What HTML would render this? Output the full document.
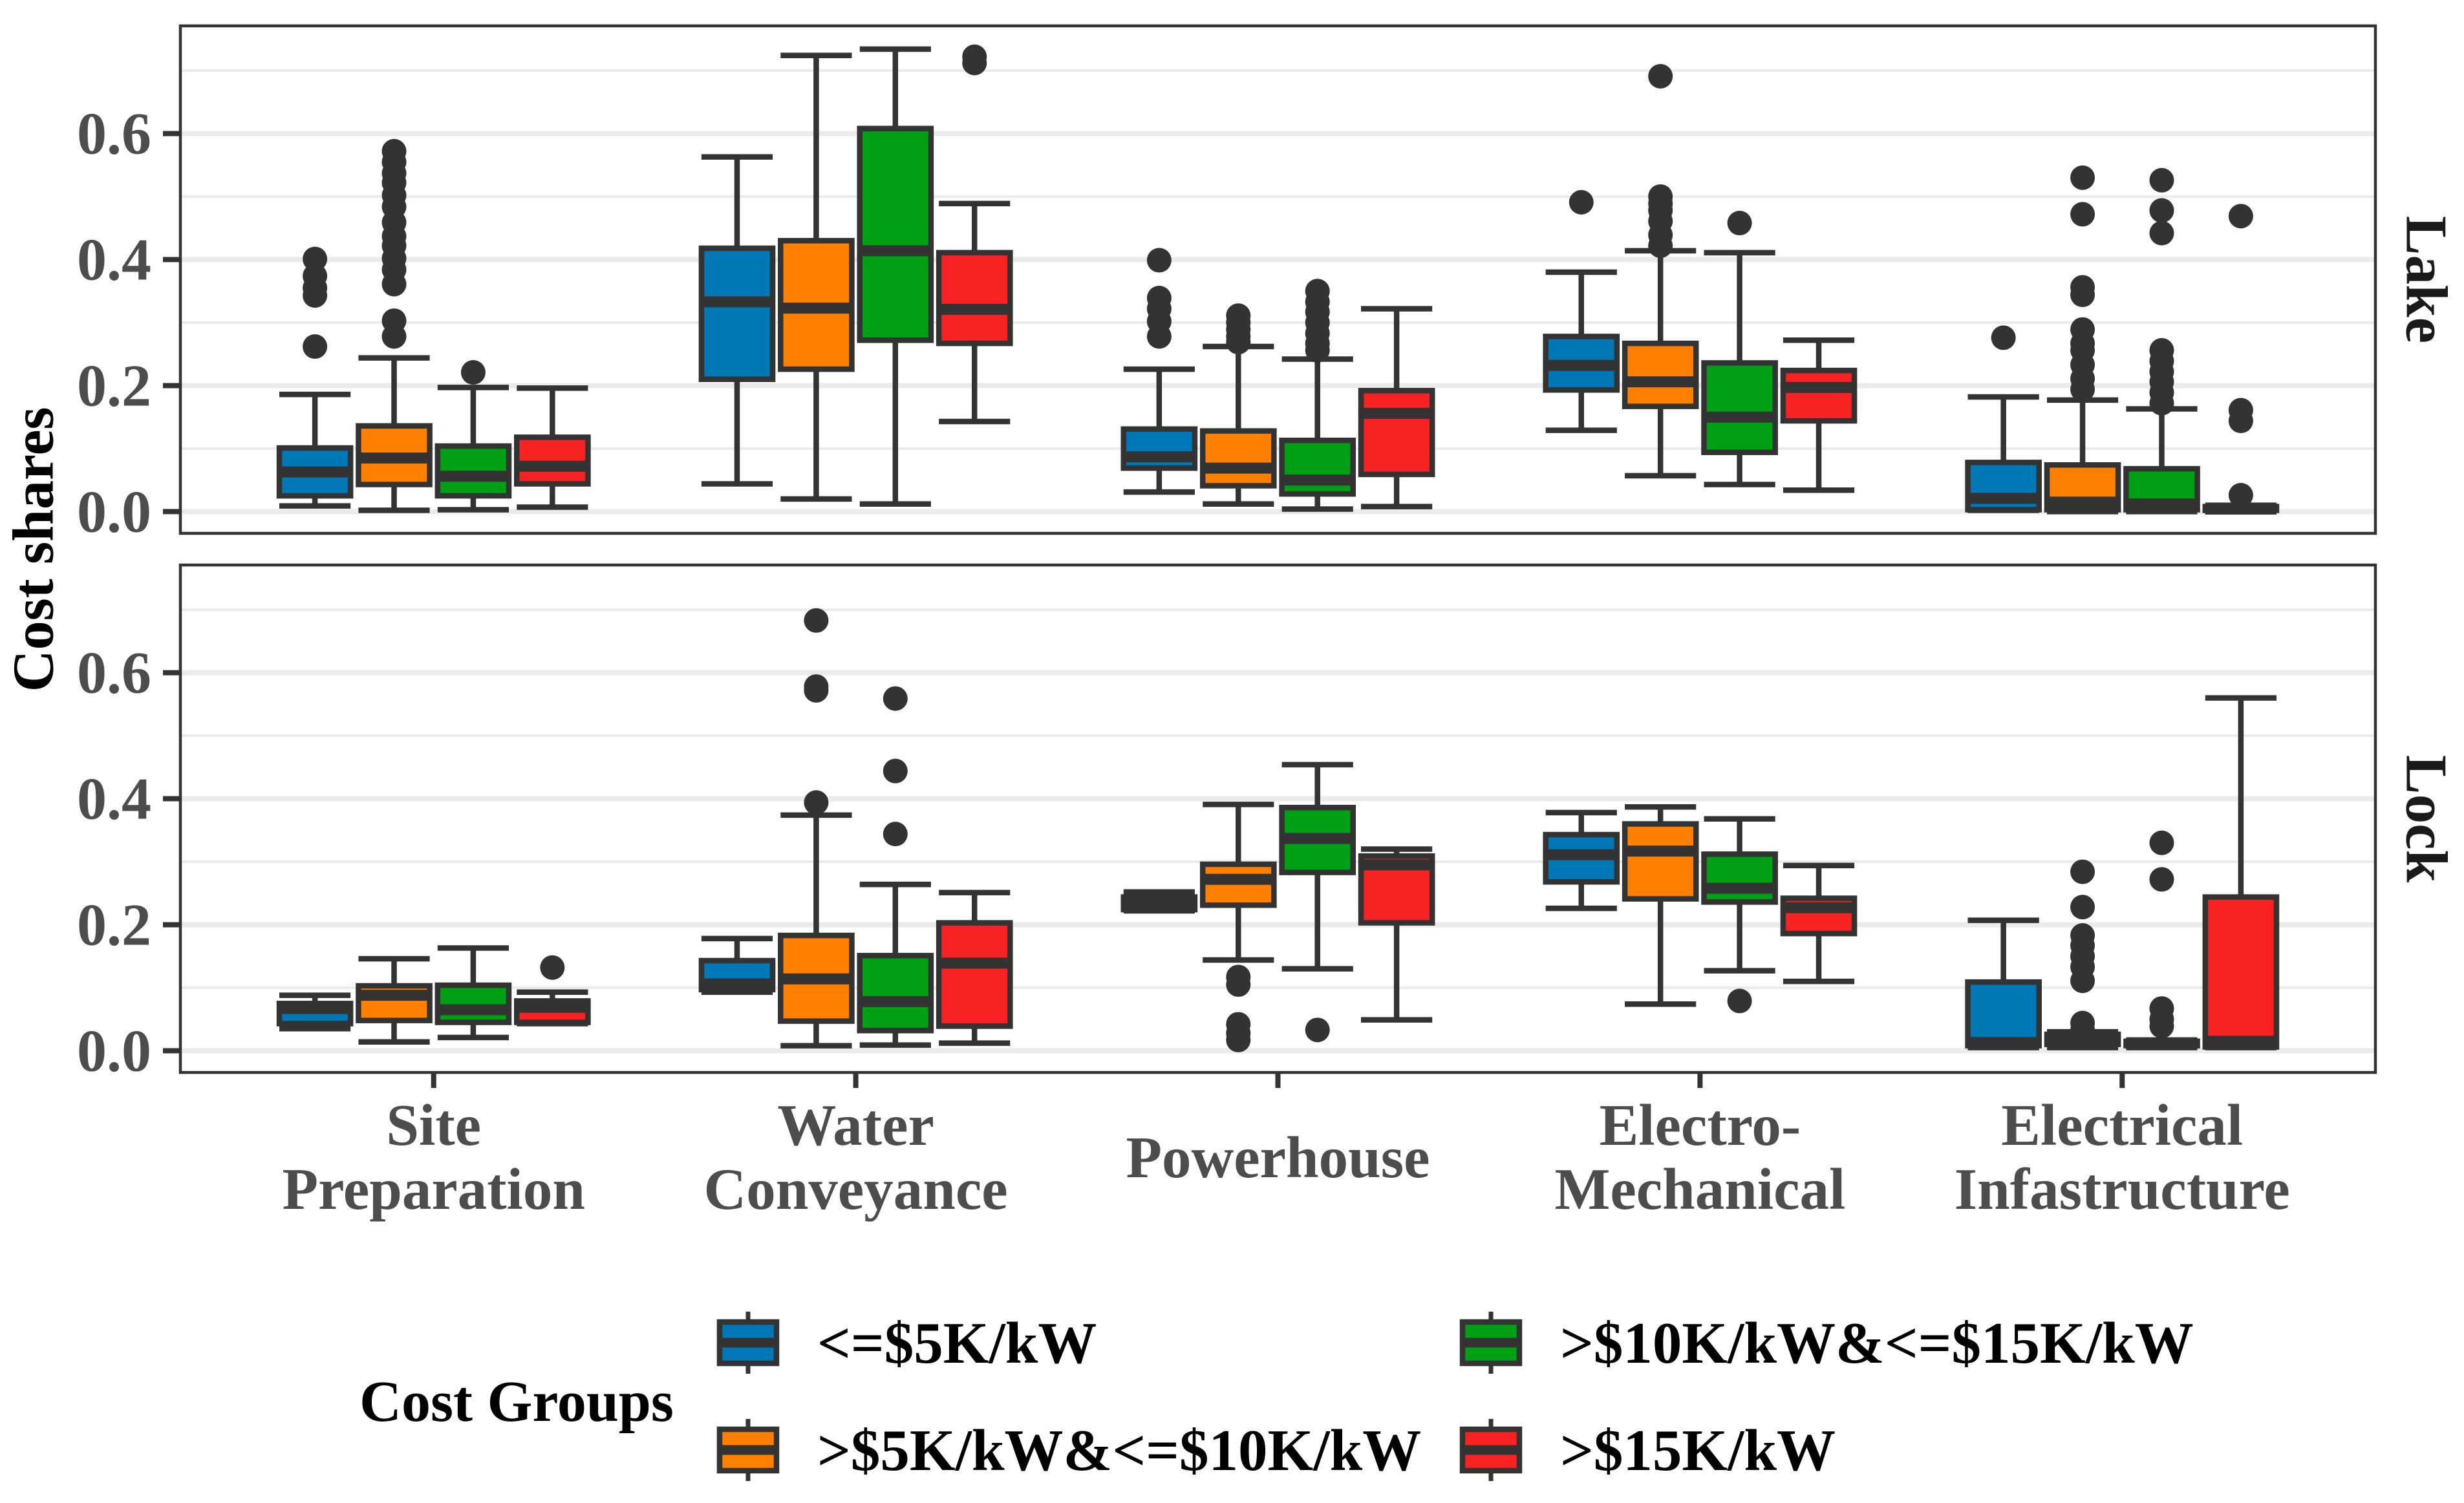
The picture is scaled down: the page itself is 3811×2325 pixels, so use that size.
<!DOCTYPE html>
<html><head><meta charset="utf-8">
<style>
html,body{margin:0;padding:0;background:#fff;}
svg{display:block;}
text{font-family:"Liberation Serif",serif;font-weight:bold;}
</style></head>
<body>
<svg id="chart" width="3811" height="2325" viewBox="0 0 3811 2325" xmlns="http://www.w3.org/2000/svg"></svg>
<script>
const categories = ["Site Preparation","Water Conveyance","Powerhouse","Electro-Mechanical","Electrical Infastructure"];
const categoryLines = [["Site","Preparation"],["Water","Conveyance"],["Powerhouse"],["Electro-","Mechanical"],["Electrical","Infastructure"]];
const groups = ["<=$5K/kW",">$5K/kW&<=$10K/kW",">$10K/kW&<=$15K/kW",">$15K/kW"];
const groupColors = ["#0077b6","#ff7f00","#00a014","#f82223"];
const facets = ["Lake","Lock"];
const yTicks = [0,0.2,0.4,0.6];
const yTickLabels = ["0.0","0.2","0.4","0.6"];
const yMinor = [0.1,0.3,0.5,0.7];

// [lower whisker, q1, median, q3, upper whisker] per category
const lakeG1 = [[0.009,0.025,0.063,0.101,0.186],[0.044,0.21,0.333,0.418,0.563],[0.031,0.069,0.087,0.131,0.226],[0.129,0.193,0.232,0.278,0.38],[0.002,0.003,0.021,0.078,0.182]];
const lakeG2 = [[0.002,0.043,0.085,0.136,0.244],[0.02,0.226,0.323,0.43,0.724],[0.012,0.041,0.069,0.128,0.262],[0.057,0.167,0.206,0.267,0.414],[0.0,0.003,0.015,0.074,0.177]];
const lakeG3 = [[0.003,0.025,0.056,0.104,0.197],[0.012,0.272,0.414,0.608,0.734],[0.004,0.028,0.05,0.113,0.242],[0.043,0.094,0.15,0.236,0.411],[0.0,0.003,0.012,0.068,0.163]];
const lakeG4 = [[0.007,0.044,0.072,0.118,0.196],[0.143,0.267,0.321,0.411,0.489],[0.008,0.059,0.156,0.192,0.322],[0.034,0.144,0.197,0.224,0.272],[0.0,0.002,0.004,0.008,0.01]];
const lockG1 = [[0.035,0.043,0.067,0.075,0.088],[0.093,0.097,0.106,0.143,0.178],[0.222,0.224,0.233,0.244,0.252],[0.226,0.268,0.311,0.343,0.378],[0.005,0.008,0.013,0.109,0.207]];
const lockG2 = [[0.014,0.048,0.088,0.103,0.146],[0.008,0.047,0.114,0.183,0.374],[0.144,0.231,0.272,0.296,0.391],[0.074,0.241,0.317,0.36,0.387],[0.005,0.01,0.019,0.026,0.03]];
const lockG3 = [[0.021,0.045,0.065,0.104,0.163],[0.009,0.032,0.078,0.151,0.264],[0.13,0.283,0.337,0.386,0.454],[0.127,0.236,0.258,0.312,0.368],[0.005,0.008,0.011,0.015,0.017]];
const lockG4 = [[0.043,0.045,0.069,0.079,0.093],[0.012,0.039,0.139,0.203,0.251],[0.049,0.203,0.295,0.309,0.32],[0.11,0.186,0.227,0.242,0.294],[0.005,0.006,0.015,0.244,0.56]];

// outliers per category
const lakeG1Out = [[0.262,0.343,0.355,0.374,0.401],[],[0.278,0.302,0.322,0.339,0.399],[0.491],[0.276]];
const lakeG2Out = [[0.278,0.303,0.361,0.384,0.402,0.422,0.437,0.459,0.484,0.502,0.522,0.537,0.555,0.572],[],[0.269,0.278,0.289,0.3,0.311],[0.422,0.439,0.461,0.478,0.489,0.5,0.691],[0.194,0.211,0.233,0.256,0.267,0.289,0.344,0.356,0.472,0.53]];
const lakeG3Out = [[0.221],[],[0.256,0.267,0.283,0.3,0.317,0.333,0.35],[0.458],[0.172,0.189,0.206,0.222,0.239,0.256,0.442,0.478,0.526]];
const lakeG4Out = [[],[0.712,0.722],[],[],[0.026,0.144,0.161,0.469]];
const lockG1Out = [[],[],[],[],[]];
const lockG2Out = [[],[0.394,0.572,0.578,0.683],[0.017,0.028,0.042,0.105,0.117],[],[0.033,0.044,0.111,0.133,0.15,0.167,0.183,0.228,0.284]];
const lockG3Out = [[],[0.344,0.444,0.559],[0.033],[0.079],[0.039,0.05,0.067,0.272,0.33]];
const lockG4Out = [[0.132],[],[],[],[]];

const stats = [[lakeG1,lakeG2,lakeG3,lakeG4],[lockG1,lockG2,lockG3,lockG4]];
const outs = [[lakeG1Out,lakeG2Out,lakeG3Out,lakeG4Out],[lockG1Out,lockG2Out,lockG3Out,lockG4Out]];

const NS = "http://www.w3.org/2000/svg";
const svg = document.getElementById("chart");
const PL = 279, PR = 3674;
const panels = [{top:40,bottom:825},{top:874,bottom:1659}];
const yMin = -0.0345, yMax = 0.771;
function xCat(i){ const w=(PR-PL)/5.2; return PL + w*(i+0.6); }
function yVal(p,v){ const P=panels[p]; return P.bottom - (v-yMin)/(yMax-yMin)*(P.bottom-P.top); }
const dodge = (PR-PL)/5.2*0.75/4;
const boxW = dodge*0.9;
function mk(tag, attrs, parent){ const e=document.createElementNS(NS,tag); for(const k in attrs) e.setAttribute(k,attrs[k]); (parent||svg).appendChild(e); return e; }

panels.forEach((P,p)=>{
  const g = mk("g",{});
  
  
  mk("rect",{x:PL,y:P.top,width:PR-PL,height:P.bottom-P.top,fill:"#fff"},g);
  yMinor.forEach(v=>{
    const l = mk("line",{x1:PL,x2:PR,y1:yVal(p,v),y2:yVal(p,v),stroke:"#ebebeb","stroke-width":4},g);
    
    
  });
  yTicks.forEach((v,k)=>{
    const l = mk("line",{x1:PL,x2:PR,y1:yVal(p,v),y2:yVal(p,v),stroke:"#ebebeb","stroke-width":8},g);
    
    
    const t = mk("line",{x1:252,x2:PL,y1:yVal(p,v),y2:yVal(p,v),stroke:"#333","stroke-width":8},g);
    
    
    const tx = mk("text",{x:234,y:yVal(p,v)+31,"text-anchor":"end","font-size":92,fill:"#4d4d4d"},g);
    tx.textContent = yTickLabels[k];
    
    
  });
  for(let c=0;c<categories.length;c++){
    for(let gi=0;gi<groups.length;gi++){
      const s = stats[p][gi][c];
      const cx = xCat(c) + (gi-1.5)*dodge;
      const bg = mk("g",{},g);
      
      
      mk("line",{x1:cx,x2:cx,y1:yVal(p,s[0]),y2:yVal(p,s[1]),stroke:"#333","stroke-width":8.5},bg);
      mk("line",{x1:cx,x2:cx,y1:yVal(p,s[3]),y2:yVal(p,s[4]),stroke:"#333","stroke-width":8.5},bg);
      mk("line",{x1:cx-boxW/2,x2:cx+boxW/2,y1:yVal(p,s[0]),y2:yVal(p,s[0]),stroke:"#333","stroke-width":8.5},bg);
      mk("line",{x1:cx-boxW/2,x2:cx+boxW/2,y1:yVal(p,s[4]),y2:yVal(p,s[4]),stroke:"#333","stroke-width":8.5},bg);
      const y3=yVal(p,s[3]), y1=yVal(p,s[1]);
      mk("rect",{x:cx-boxW/2,y:y3,width:boxW,height:Math.max(0.5,y1-y3),fill:groupColors[gi],stroke:"#333","stroke-width":8.5},bg);
      mk("line",{x1:cx-boxW/2,x2:cx+boxW/2,y1:yVal(p,s[2]),y2:yVal(p,s[2]),stroke:"#333","stroke-width":17},bg);
      outs[p][gi][c].forEach(o=>{
        const pt = mk("circle",{cx:cx,cy:yVal(p,o),r:19,fill:"#333"},bg);
        
        
      });
    }
  }
  const border = mk("rect",{x:PL,y:P.top,width:PR-PL,height:P.bottom-P.top,fill:"none",stroke:"#333","stroke-width":4.5},g);
  
  
  const cy=(P.top+P.bottom)/2;
  const st = mk("text",{x:3753,y:cy,"text-anchor":"middle","dominant-baseline":"central","font-size":91,fill:"#1a1a1a",transform:`rotate(90 3753 ${cy})`},g);
  st.textContent = facets[p];
  
  
});

// x axis
categories.forEach((c,i)=>{
  const x = xCat(i);
  const t = mk("line",{x1:x,x2:x,y1:1659,y2:1683,stroke:"#333","stroke-width":8});
  
  
  const lines = categoryLines[i];
  const tx = mk("text",{x:x,"text-anchor":"middle","font-size":91,fill:"#4d4d4d"});
  
  
  const base = lines.length===1 ? 1821 : 1771;
  lines.forEach((ln,k)=>{
    const ts = mk("tspan",{x:x,y:base+k*99},tx);
    ts.textContent = ln;
  });
});

// y title
const yt = mk("text",{x:52,y:850,"text-anchor":"middle","dominant-baseline":"central","font-size":90,fill:"#000",transform:"rotate(-90 52 850)"});
yt.textContent = "Cost shares";



// legend
const lg = mk("g",{});


const ltitle = mk("text",{x:556,y:2198,"font-size":90,fill:"#000"},lg);
ltitle.textContent = "Cost Groups";


const keyX = [1109,1109,2258,2258];
const keyY = [2077,2243,2077,2243];
const legendOrder = [0,1,2,3];
legendOrder.forEach((gi,k)=>{
  const eg = mk("g",{},lg);
  
  
  const kx = keyX[k], ky = keyY[k], cx = kx+48;
  mk("line",{x1:cx,x2:cx,y1:ky-48,y2:ky+48,stroke:"#333","stroke-width":7},eg);
  mk("rect",{x:kx+4,y:ky-32,width:88,height:64,fill:groupColors[gi],stroke:"#333","stroke-width":8.5},eg);
  mk("line",{x1:kx+4,x2:kx+92,y1:ky,y2:ky,stroke:"#333","stroke-width":15},eg);
  const t = mk("text",{x:kx+155,y:ky+31,"font-size":91,fill:"#000"},eg);
  t.textContent = groups[gi];
});
</script>
</body></html>
